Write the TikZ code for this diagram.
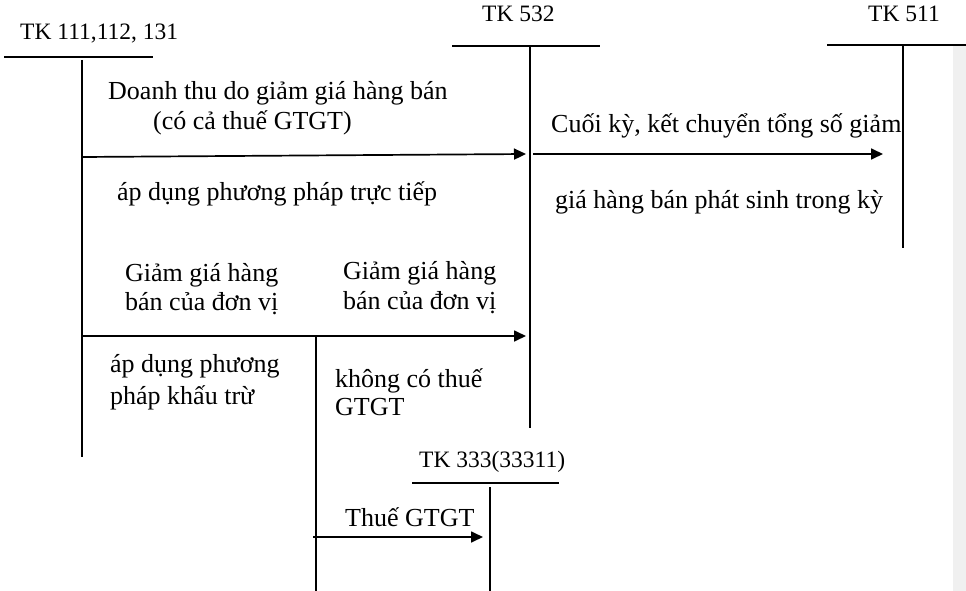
\documentclass[tikz,border=0pt]{standalone}
\usepackage{fontspec}
\setmainfont{Liberation Serif}
\usetikzlibrary{arrows.meta}
\definecolor{margin}{HTML}{F0F0F0}
\begin{document}
\begin{tikzpicture}[x=1pt,y=-1pt,
  acct/.style={line width=1.3pt},
  flow/.style={line width=1.7pt,-{Triangle[length=12pt,width=11pt]}},
  lbl/.style={anchor=base west,inner sep=0pt,font=\fontsize{26}{30}\selectfont},
  head/.style={anchor=base west,inner sep=0pt,font=\fontsize{23.5}{30}\selectfont}]
\useasboundingbox (0,0) rectangle (966,591);
\fill[margin] (953,46) rectangle (966,591);

% account headings
\node[head] (h111) at (20,40) {TK 111,112, 131};
\node[head] (h532) at (482,22) {TK 532};
\node[head] (h511) at (868,22) {TK 511};
\node[head] (h333) at (419,467) {TK 333(33311)};

% T-account rules
\coordinate (a1) at (4,57);   \coordinate (a2) at (153,57);
\coordinate (a3) at (82,60);  \coordinate (a4) at (82,457);
\coordinate (b1) at (452,46); \coordinate (b2) at (600,46);
\coordinate (b3) at (530,47); \coordinate (b4) at (530,428);
\coordinate (c1) at (827,45); \coordinate (c2) at (966,45);
\coordinate (c3) at (903,45); \coordinate (c4) at (903,248);
\coordinate (d1) at (412,483); \coordinate (d2) at (559,483);
\coordinate (d3) at (490,487); \coordinate (d4) at (490,591);
\draw[acct] (a1) -- (a2) (a3) -- (a4);
\draw[acct] (b1) -- (b2) (b3) -- (b4);
\draw[acct] (c1) -- (c2) (c3) -- (c4);
\draw[acct] (d1) -- (d2) (d3) -- (d4);

% flows
\coordinate (f1s) at (82,157);  \coordinate (f1e) at (526,154);
\coordinate (f2s) at (533,154); \coordinate (f2e) at (883,154);
\coordinate (f3s) at (82,336);  \coordinate (f3e) at (526,336);
\coordinate (br1) at (316,336); \coordinate (br2) at (316,591);
\coordinate (f4s) at (313,537); \coordinate (f4e) at (483,537);
\draw[flow] (f1s) -- (f1e);
\draw[flow] (f2s) -- (f2e);
\draw[flow] (f3s) -- (f3e);
\draw[acct] (br1) -- (br2);
\draw[flow] (f4s) -- (f4e);

% labels
\node[lbl] (t1) at (108,100) {Doanh thu do giảm giá hàng bán};
\node[lbl] (t2) at (153,130) {(có cả thuế GTGT)};
\node[lbl] (t3) at (117,200) {áp dụng phương pháp trực tiếp};
\node[lbl] (t4) at (551,132) {Cuối kỳ, kết chuyển tổng số giảm};
\node[lbl] (t5) at (555,208) {giá hàng bán phát sinh trong kỳ};
\node[lbl] (t6) at (125,281) {Giảm giá hàng};
\node[lbl] (t7) at (125,310) {bán của đơn vị};
\node[lbl] (t8) at (343,279) {Giảm giá hàng};
\node[lbl] (t9) at (343,309) {bán của đơn vị};
\node[lbl] (t10) at (110,372) {áp dụng phương};
\node[lbl] (t11) at (110,404) {pháp khấu trừ};
\node[lbl] (t12) at (335,387) {không có thuế};
\node[lbl] (t13) at (335,415) {GTGT};
\node[lbl] (t14) at (345,526) {Thuế GTGT};
\end{tikzpicture}
\end{document}
